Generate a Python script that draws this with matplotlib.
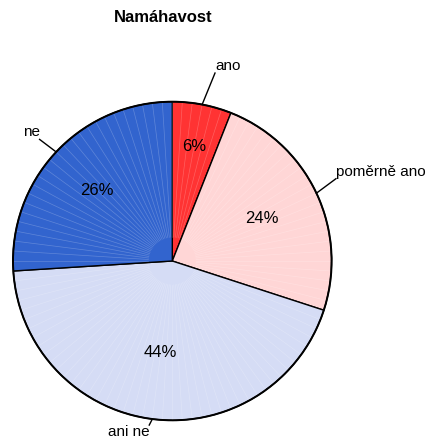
import numpy as np
import matplotlib
matplotlib.use("Agg")
import matplotlib.pyplot as plt

plt.rcParams['font.family'] = ['Liberation Sans', 'DejaVu Sans']

title = "Namáhavost"
categories = ["ano", "poměrně ano", "ani ne", "ne"]
values = [6, 24, 44, 26]
pct_labels = ["6%", "24%", "44%", "26%"]
colors = ["#ff3333", "#ffd6d6", "#d5dcf5", "#3264ce"]

# layout (pixel units)
W, H = 427, 444
cx, cy, R = 172.3, 444 - 261, 159.3
label_line_end = [1.21, 1.15, 1.04, 1.13]
label_angle_shift = [-2.0, 1.5, -0.8, 0.7]
pct_dist = [0.73, 0.62, 0.58, 0.65]

fig = plt.figure(figsize=(W / 100, H / 100), dpi=100)
ax = fig.add_axes([0, 0, 1, 1])

wedges, _ = ax.pie(values, colors=colors, startangle=90, counterclock=False,
                   center=(cx, cy), radius=R, frame=True,
                   wedgeprops=dict(edgecolor='black', linewidth=1.0))
ax.set_xlim(0, W)
ax.set_ylim(0, H)
ax.set_aspect('equal')
ax.axis('off')

# faint radial shading artifacts
total = sum(values)
start = 90.0
for v in values:
    span = v / total * 360
    angs = np.arange(start - 3.6, start - span, -3.6)
    for a in angs:
        t = np.deg2rad(a)
        ax.plot([cx + 0.15 * R * np.cos(t), cx + R * np.cos(t)],
                [cy + 0.15 * R * np.sin(t), cy + R * np.sin(t)],
                color='white', lw=0.5, alpha=0.22, zorder=2)
    start -= span

# outer outline
circ = plt.Circle((cx, cy), R, fill=False, edgecolor='black', lw=1.4, zorder=3)
ax.add_patch(circ)

start = 90.0
for i, v in enumerate(values):
    span = v / total * 360
    mid = np.deg2rad(start - span / 2)
    c, s = np.cos(mid), np.sin(mid)
    x0, y0 = cx + R * c, cy + R * s
    f = label_line_end[i]
    m2 = mid + np.deg2rad(label_angle_shift[i])
    x1, y1 = cx + f * R * np.cos(m2), cy + f * R * np.sin(m2)
    ax.plot([x0, x1], [y0, y1], color='black', lw=1.0, zorder=4)
    ax.text(x1, y1, categories[i], fontsize=11,
            ha='left' if c > 0 else 'right',
            va='bottom' if s > 0 else 'top')
    d = pct_dist[i]
    ax.text(cx + d * R * c, cy + d * R * s, pct_labels[i], fontsize=12,
            ha='center', va='center', zorder=5)
    start -= span

fig.text(163 / W, 1 - 18 / H, title, fontsize=12, fontweight='bold',
         ha='center', va='center')

fig.savefig("out.png", dpi=100)
